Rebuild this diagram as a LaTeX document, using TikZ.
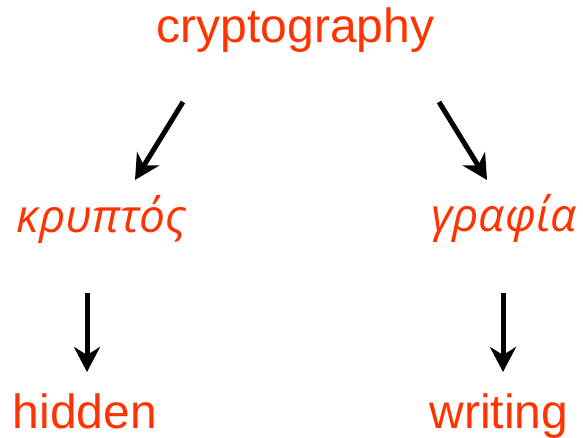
\documentclass[tikz,border=0pt]{standalone}
\usepackage{fontspec}
\setmainfont{Liberation Sans}
\newfontfamily\greekit{Open Sans}[Script=Greek]
\usetikzlibrary{arrows.meta}
\definecolor{wordred}{HTML}{FF3300}
\tikzset{
  word/.style={anchor=base, inner sep=0pt, text=wordred, font=\fontsize{48}{56}\selectfont},
  gword/.style={anchor=base, inner sep=0pt, text=wordred, font=\greekit\itshape\fontsize{46}{56}\selectfont},
  arr/.style={line width=5pt, -{Stealth[length=25pt, width=26pt, inset=8pt]}}
}
\begin{document}
\begin{tikzpicture}[x=1pt, y=-1pt]
\useasboundingbox (0,0) rectangle (583,438);
\node[word] (crypto) at (295.5,43) {cryptography};
\node[gword] (kryptos) at (101.5,233) {κρυπτός};
\node[gword] (grafia) at (504,232) {γραφία};
\node[word] (hidden) at (85,428) {hidden};
\node[word] (writing) at (499,428) {writing};
\coordinate (a1s) at (183,102);
\coordinate (a1e) at (135,180);
\coordinate (a2s) at (439,102);
\coordinate (a2e) at (487,180);
\coordinate (a3s) at (87,293);
\coordinate (a3e) at (87,372);
\coordinate (a4s) at (503,293);
\coordinate (a4e) at (503,372);
\draw[arr] (a1s) -- (a1e);
\draw[arr] (a2s) -- (a2e);
\draw[arr] (a3s) -- (a3e);
\draw[arr] (a4s) -- (a4e);
\end{tikzpicture}
\end{document}
